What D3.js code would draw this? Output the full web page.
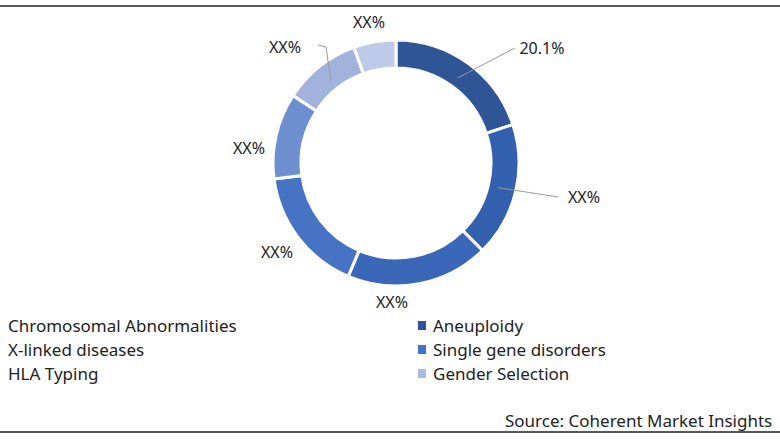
<!DOCTYPE html>
<html><head><meta charset="utf-8">
<script src="https://cdn.jsdelivr.net/npm/d3@7"></script>
<style>body{margin:0;background:#fff}text{font-family:"Noto Sans",sans-serif;fill:#222}</style>
</head><body><svg id="c" width="780" height="440"></svg>
<script>
const sliceValues = [20.1, 17.8, 18.9, 16.7, 11.4, 10.3, 5.6];
const sliceLabels = ["20.1%", "XX%", "XX%", "XX%", "XX%", "XX%", "XX%"];
const sliceColors = ["#2F5597", "#3361AF", "#3A67B8", "#4673C4", "#6E8FD0", "#A1B3DD", "#BECBE8"];
const legendLeft = ["Chromosomal Abnormalities", "X-linked diseases", "HLA Typing"];
const legendRight = ["Aneuploidy", "Single gene disorders", "Gender Selection"];
const legendRightColors = ["#2F5597", "#4472C4", "#A9BCE2"];

const svg = d3.select("#c");
svg.append("line").attr("x1",0).attr("x2",780).attr("y1",6).attr("y2",6).attr("stroke","#222").attr("stroke-width",1.5);
svg.append("line").attr("x1",0).attr("x2",780).attr("y1",432).attr("y2",432).attr("stroke","#222").attr("stroke-width",1.5);

const cx = 396, cy = 163;
const g = svg.append("g").attr("transform", `translate(${cx},${cy})`);
const pie = d3.pie().sort(null).value(d => d);
const arcs = pie(sliceValues);
const arc = d3.arc().innerRadius(95).outerRadius(123);
g.selectAll("path").data(arcs).join("path").attr("d", arc)
  .attr("fill", (d,i) => sliceColors[i]).attr("stroke","#fff").attr("stroke-width",3);

const labelPos = [[146,-115],[188,34],[-4,139],[-119,89],[-147,-15],[-111,-116],[-27,-141]];
const leaders = [[119,-115],[162,34],null,null,null,[-72,-118],null];
arcs.forEach((a,i) => {
  const [lx,ly] = labelPos[i];
  if (leaders[i]) {
    const c = d3.arc().innerRadius(105).outerRadius(105).centroid(a);
    const end = leaders[i];
    const pts = i===5 ? [c,[end[0]+2,end[1]+2],[end[0]-6,end[1]]] : [c,end];
    g.append("path").attr("d", d3.line()(pts)).attr("fill","none").attr("stroke","#999").attr("stroke-width",1);
  }
  g.append("text").attr("x",lx).attr("y",ly).attr("text-anchor","middle").attr("dominant-baseline","central")
    .attr("font-size",16).text(sliceLabels[i]);
});

const ly0 = 325, dy = 24;
legendLeft.forEach((t,i) => svg.append("text").attr("x",8).attr("y",ly0+i*dy).attr("dominant-baseline","central").attr("font-size",17).text(t));
legendRight.forEach((t,i) => {
  svg.append("rect").attr("x",418).attr("y",ly0+i*dy-4).attr("width",8).attr("height",9).attr("fill",legendRightColors[i]);
  svg.append("text").attr("x",433).attr("y",ly0+i*dy).attr("dominant-baseline","central").attr("font-size",17).text(t);
});
svg.append("text").attr("x",505).attr("y",420).attr("dominant-baseline","central").attr("font-size",17).text("Source: Coherent Market Insights");
</script></body></html>
